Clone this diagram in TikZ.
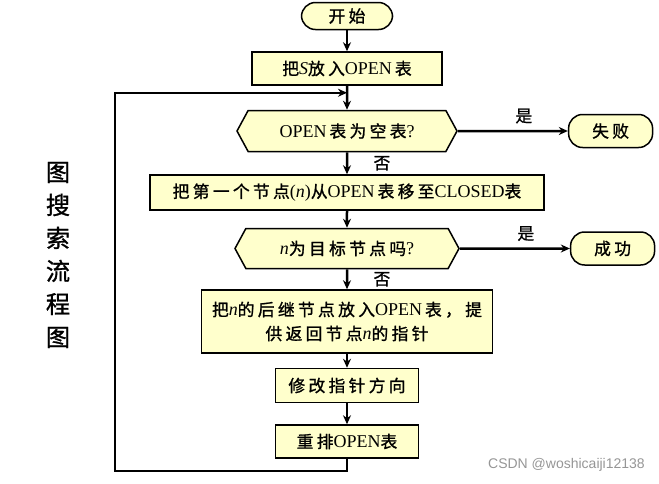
\documentclass[tikz,border=0pt]{standalone}
\usepackage{fontspec}
\setmainfont{Liberation Serif}
\newfontfamily\cjk[Scale=0.93, LetterSpace=20, FakeBold=1.2]{Noto Sans CJK SC}
\newfontfamily\markfont{Liberation Sans}
\usetikzlibrary{arrows.meta, positioning, shapes.symbols}
\definecolor{my_yellow}{RGB}{255, 255, 204}
\definecolor{my_gray}{RGB}{150, 150, 150}
\newcommand{\zh}[1]{{\cjk #1}}
\tikzset {
  terminal/.style = {draw, line width=1.5pt, fill=my_yellow, rounded corners=14pt, rectangle, minimum height=27pt, minimum width=91pt, inner sep=0pt},
  box/.style = {draw, line width=1.5pt, fill=my_yellow, rectangle, minimum height=34pt, inner sep=0pt, align=center},
  decision/.style = {draw, line width=1.5pt, fill=my_yellow, signal, signal to=west and east, signal pointer angle=123, minimum height=41pt, minimum width=220pt, inner sep=0pt},
  line/.style = {-{Stealth[length=9pt, width=8pt]}, line width=2.5pt, color=black},
  plain/.style = {inner sep=0pt}
}

\begin{document}
\begin{tikzpicture}[x=1pt, y=1pt, font=\fontsize{18}{24}\selectfont]
    \useasboundingbox (0,0) rectangle (659,-483);

    \node[terminal, name=start] (start) at (347,-16) {\zh{开始}};
    \node[box, minimum width=190pt, minimum height=33pt, below=21pt of start] (put) {\zh{把}\emph{S}\zh{放入}OPEN\,\zh{表}};
    \node[decision, below=24pt of put] (empty) {OPEN\,\zh{表为空表}?};
    \node[terminal, minimum width=84pt, minimum height=33pt, right=110pt of empty] (fail) {\zh{失败}};
    \node[box, minimum width=394pt, minimum height=35pt, below=22pt of empty] (move) {\zh{把第一个节点}(\emph{n})\zh{从}OPEN\,\zh{表移至}CLOSED\zh{表}};
    \node[decision, minimum width=224pt, minimum height=40pt, below=17pt of move] (goal) {\emph{n}\zh{为目标节点吗}?};
    \node[terminal, minimum width=84pt, minimum height=33pt, right=110pt of goal] (success) {\zh{成功}};
    \node[box, minimum width=291pt, minimum height=63pt, below=20pt of goal] (expand) {\zh{把}\emph{n}\zh{的后继节点放入}OPEN\,\zh{表，提}\\\zh{供返回节点}\emph{n}\zh{的指针}};
    \node[box, minimum width=143pt, minimum height=34pt, below=14pt of expand] (modify) {\zh{修改指针方向}};
    \node[box, minimum width=143pt, minimum height=33pt, below=21pt of modify] (sort) {\zh{重排}OPEN\zh{表}};

    \node[plain, align=center, font=\cjk\fontsize{26}{33}\selectfont] (title) at (58,-255) {图\\搜\\索\\流\\程\\图};
    \node[plain, anchor=east, text=my_gray, font=\markfont\fontsize{14}{16}\selectfont] (mark) at (645,-465) {CSDN @woshicaiji12138};

    \coordinate[below=7pt of put.south] (join);
    \coordinate (corner) at (115,-471);

    \draw[line] (start) -- (put);
    \draw[line] (put) -- (empty);
    \draw[line] (empty) -- node[pos=0.6, above=3pt] {\zh{是}} (fail);
    \draw[line] (empty) -- node[right=22pt] {\zh{否}} (move);
    \draw[line] (move) -- (goal);
    \draw[line] (goal) -- node[pos=0.6, above=3pt] {\zh{是}} (success);
    \draw[line] (goal) -- node[right=22pt] {\zh{否}} (expand);
    \draw[line] (expand) -- (modify);
    \draw[line] (modify) -- (sort);
    \draw[line] (sort.south) |- (corner) |- (join);

  \end{tikzpicture}
\end{document}
